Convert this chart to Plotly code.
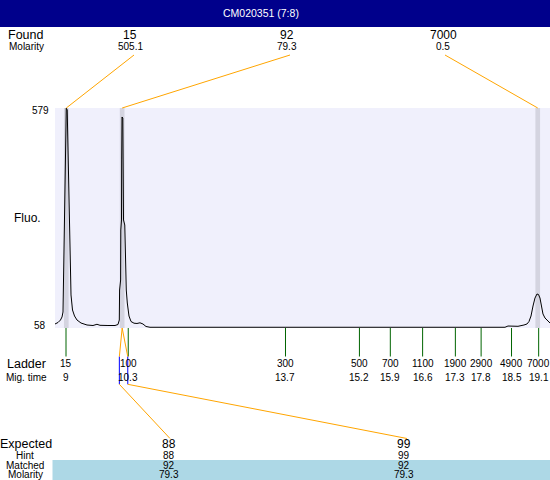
import plotly.graph_objects as go

W, H = 550, 480
PLOT_L, PLOT_R, PLOT_T, PLOT_B = 55, 550, 108, 328
XMIN, XMAX = 8.765, 19.342
YMIN, YMAX = 58, 579

title_text = "CM020351 (7:8)"

# electropherogram (migration time, fluorescence)
trace_time = [8.765, 8.829, 8.882, 8.915, 8.936, 8.944, 8.949, 8.962, 8.972, 8.985,
              8.996, 9.006, 9.026, 9.038, 9.053, 9.071, 9.090, 9.107, 9.139, 9.182,
              9.235, 9.321, 9.449, 9.577, 9.662, 9.726, 9.897, 10.047, 10.111, 10.139,
              10.145, 10.167, 10.171, 10.186, 10.190, 10.197, 10.214, 10.222, 10.229, 10.256,
              10.265, 10.282, 10.288, 10.310, 10.346, 10.389, 10.453, 10.517, 10.581, 10.645,
              10.709, 10.795, 14.0, 16.991, 17.077, 17.162, 18.380, 18.444, 18.658, 18.786,
              18.850, 18.893, 18.936, 18.979, 19.021, 19.064, 19.096, 19.128, 19.160, 19.192,
              19.235, 19.278, 19.342]
trace_fluo = [67.5, 71.0, 76.9, 84.1, 95.9, 148.0, 223.8, 294.8, 384.8, 503.2,
              569.5, 579.0, 574.3, 503.2, 396.6, 290.1, 195.4, 136.2, 100.6, 86.4,
              76.9, 69.8, 65.1, 63.9, 66.8, 64.4, 63.9, 63.9, 66.3, 76.9,
              148.0, 171.7, 290.1, 313.8, 455.9, 557.7, 555.3, 455.9, 313.8, 301.9,
              242.7, 223.8, 148.0, 117.2, 86.4, 73.4, 69.4, 68.7, 70.3, 67.5,
              61.6, 59.7, 59.7, 59.7, 58.3, 59.7, 59.7, 62.7, 62.0, 65.1,
              67.5, 73.4, 86.4, 110.1, 129.0, 138.5, 137.3, 129.0, 110.1, 91.2,
              81.7, 75.8, 69.8]

# found peaks
found_sizes = ["15", "92", "7000"]
found_molarity = ["505.1", "79.3", "0.5"]
found_times = [9.006, 10.200, 19.080]

# ladder
ladder_sizes = ["15", "100", "300", "500", "700", "1100", "1900", "2900", "4900", "7000"]
ladder_times = [9.0, 10.33, 13.69, 15.27, 15.93, 16.62, 17.32, 17.87, 18.52, 19.1]
ladder_time_labels = ["9", "10.3", "13.7", "15.2", "15.9", "16.6", "17.3", "17.8", "18.5", "19.1"]

# expected / matched table
expected_sizes = ["88", "99"]
expected_times = [10.14, 10.32]
hint_sizes = ["88", "99"]
matched_sizes = ["92", "92"]
matched_molarity = ["79.3", "79.3"]
matched_peak_time = 10.20

# layout positions (pixels)
found_label_px = [130, 287, 443]
found_line_px = [134, 290, 445]
expected_label_px = [169, 404]
expected_line_end_px = [170, 407]

FONT = "Liberation Sans, Arial, sans-serif"
ORANGE = "#ffa500"


def px_x(p):
    return p / W


def px_y(p):
    return 1 - p / H


def px_to_t(p):
    return XMIN + (p - PLOT_L) / (PLOT_R - PLOT_L) * (XMAX - XMIN)


fig = go.Figure()
fig.add_trace(go.Scatter(x=trace_time, y=trace_fluo, mode="lines",
                         line=dict(color="black", width=1), hoverinfo="skip"))

shapes = []
annotations = []


def text(x, y, s, size, color="black", xref="paper"):
    annotations.append(dict(x=x, y=y, xref=xref, yref="paper", text=s, showarrow=False,
                            xanchor="center", yanchor="middle", borderpad=0,
                            font=dict(family=FONT, size=size, color=color)))


# title bar
shapes.append(dict(type="rect", xref="paper", yref="paper", x0=0, x1=1, y0=px_y(27), y1=1,
                   fillcolor="#00008b", line=dict(width=0), layer="below"))
text(px_x(261), px_y(13.5), title_text, 10.5, "white")

# peak bands
for t in found_times:
    shapes.append(dict(type="rect", xref="x", yref="y", x0=t - 0.05, x1=t + 0.05,
                       y0=YMIN, y1=YMAX, fillcolor="#d4d4e0", line=dict(width=0), layer="below"))

# found header
text(px_x(25), px_y(34.5), "Found", 12.5)
text(px_x(26), px_y(46.5), "Molarity", 10)
for s, m, lx, ll, t in zip(found_sizes, found_molarity, found_label_px, found_line_px, found_times):
    text(px_x(lx), px_y(34.5), s, 12)
    text(px_x(lx), px_y(46.5), m, 10)
    shapes.append(dict(type="line", xref="x", yref="paper", x0=px_to_t(ll), y0=px_y(55),
                       x1=t, y1=px_y(PLOT_T), line=dict(color=ORANGE, width=1)))

# y labels
text(px_x(40.5), px_y(110.5), str(YMAX), 10)
text(px_x(40), px_y(325.5), str(YMIN), 10)
text(px_x(27), px_y(218), "Fluo.", 12)

# ladder
text(px_x(26), px_y(363.5), "Ladder", 12.5)
text(px_x(26), px_y(377.5), "Mig. time", 10)
for s, t, lab in zip(ladder_sizes, ladder_times, ladder_time_labels):
    shapes.append(dict(type="line", xref="x", yref="paper", x0=t, x1=t, y0=px_y(PLOT_B),
                       y1=px_y(356.5), line=dict(color="#006400", width=1)))
    text(t, px_y(363.5), s, 10, xref="x")
    text(t, px_y(377.5), lab, 10, xref="x")

# matched connections
for et, lx in zip(expected_times, expected_line_end_px):
    shapes.append(dict(type="line", xref="x", yref="paper", x0=matched_peak_time, y0=px_y(PLOT_B),
                       x1=et, y1=px_y(356.7), line=dict(color=ORANGE, width=1)))
    shapes.append(dict(type="line", xref="x", yref="paper", x0=et, y0=px_y(356.7),
                       x1=et, y1=px_y(384.3), line=dict(color="#0000ff", width=1)))
    shapes.append(dict(type="line", xref="x", yref="paper", x0=et, y0=px_y(384.3),
                       x1=px_to_t(lx), y1=px_y(438.5), line=dict(color=ORANGE, width=1)))

# bottom table
shapes.append(dict(type="rect", xref="paper", yref="paper", x0=px_x(52.5), x1=1,
                   y0=0, y1=px_y(460), fillcolor="#add8e6", line=dict(width=0), layer="below"))
text(px_x(26), px_y(443.5), "Expected", 12.5)
text(px_x(25), px_y(455), "Hint", 10)
text(px_x(25), px_y(465), "Matched", 10)
text(px_x(25), px_y(474.5), "Molarity", 10)
for e, h, m, mm, lx in zip(expected_sizes, hint_sizes, matched_sizes, matched_molarity, expected_label_px):
    text(px_x(lx), px_y(443.5), e, 12)
    text(px_x(lx), px_y(455), h, 10)
    text(px_x(lx), px_y(465), m, 10)
    text(px_x(lx), px_y(474.5), mm, 10)

fig.update_layout(
    width=W, height=H,
    margin=dict(l=0, r=0, t=0, b=0),
    paper_bgcolor="white",
    plot_bgcolor="#f0f0fc",
    showlegend=False,
    xaxis=dict(domain=[PLOT_L / W, PLOT_R / W], range=[XMIN, XMAX], visible=False, fixedrange=True),
    yaxis=dict(domain=[px_y(PLOT_B), px_y(PLOT_T)], range=[YMIN, YMAX], visible=False, fixedrange=True),
    shapes=shapes,
    annotations=annotations,
)

fig.write_html("out.html", config={"displayModeBar": False},
               post_script="document.body.style.margin='0px';document.body.style.overflow='hidden';")
